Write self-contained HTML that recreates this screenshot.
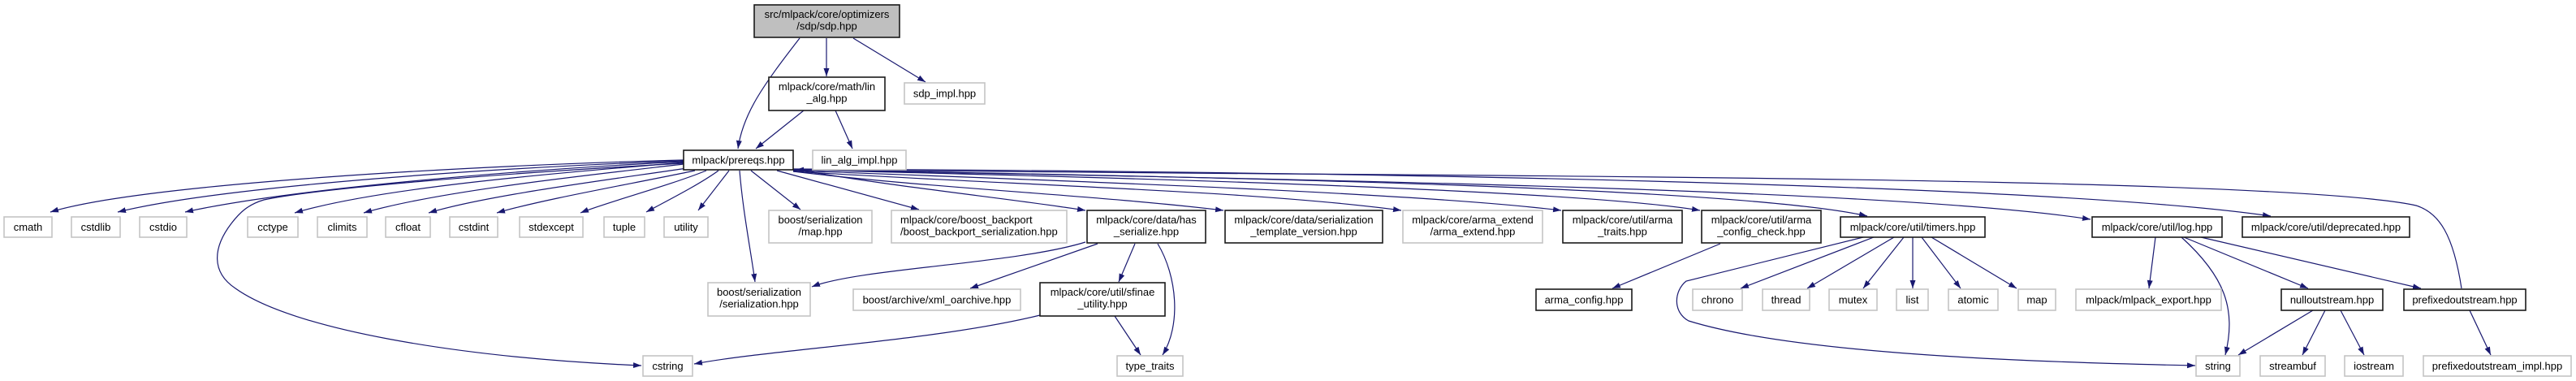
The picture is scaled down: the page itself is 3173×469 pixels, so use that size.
<!DOCTYPE html>
<html>
<head>
<meta charset="utf-8">
<style>
html,body{margin:0;padding:0;background:#fff;}
svg{display:block;}
text{font-family:"Liberation Sans",Arial,sans-serif;font-size:13px;fill:#000;}
.b{fill:#fff;stroke:#1a1a1a;stroke-width:1.6;}
.g{fill:#fff;stroke:#c4c4c4;stroke-width:1.6;}
.t{fill:#bfbfbf;stroke:#1a1a1a;stroke-width:1.6;}
.e{fill:none;stroke:#191970;stroke-width:1.2;marker-end:url(#ah);}
</style>
</head>
<body>
<svg width="3173" height="469" viewBox="0 0 3173 469" xmlns="http://www.w3.org/2000/svg">
<defs>
<marker id="ah" markerUnits="userSpaceOnUse" markerWidth="11" markerHeight="8" refX="10" refY="3.5" orient="auto">
<path d="M0,0 L10,3.5 L0,7 Z" fill="#191970"/>
</marker>
</defs>

<!-- edges -->
<g>
<path class="e" d="M985,47 C940,105 915,140 909,183"/>
<path class="e" d="M1018,47 L1018,94"/>
<path class="e" d="M1051,47 L1140,101"/>
<path class="e" d="M990,136 L931,183"/>
<path class="e" d="M1029,136 L1050,183"/>

<!-- prereqs left fan -->
<path class="e" d="M842,197 C600,203 180,225 62,261"/>
<path class="e" d="M842,198 C620,206 280,228 145,261"/>
<path class="e" d="M842,199 C640,209 360,232 228,261"/>
<path class="e" d="M842,200 C700,212 470,230 363,262"/>
<path class="e" d="M842,202 C730,215 540,235 448,262"/>
<path class="e" d="M846,207 C760,220 600,240 528,262"/>
<path class="e" d="M856,210 C780,226 670,245 612,262"/>
<path class="e" d="M870,210 C820,230 750,248 715,262"/>
<path class="e" d="M885,210 C860,228 820,248 796,261"/>
<path class="e" d="M898,210 L860,259"/>
<path class="e" d="M842,201 C620,213 390,232 325,246 C305,252 295,262 285,275 C262,305 260,335 290,355 C360,405 560,440 790,450"/>
<path class="e" d="M911,210 C915,260 925,310 930,347"/>

<!-- prereqs right fan -->
<path class="e" d="M925,210 L986,258"/>
<path class="e" d="M957,210 L1132,258"/>
<path class="e" d="M977,208 C1100,230 1250,245 1337,259"/>
<path class="e" d="M977,211 C1150,232 1350,240 1507,259"/>
<path class="e" d="M977,211 C1250,228 1550,235 1726,259"/>
<path class="e" d="M977,210 C1350,224 1750,238 1923,259"/>
<path class="e" d="M977,209 C1450,220 1950,235 2094,259"/>
<path class="e" d="M977,209 C1550,218 2150,232 2300,266"/>
<path class="e" d="M977,209 C1700,222 2350,235 2575,270"/>
<path class="e" d="M977,208 C1800,212 2550,230 2797,266"/>
<path class="e" d="M3032,355 C3022,290 3005,262 2976,253 C2850,225 2200,218 1573,214 L980,209"/>

<!-- has_serialize -->
<path class="e" d="M1337,298 C1250,325 1060,330 1000,353"/>
<path class="e" d="M1352,300 L1195,355"/>
<path class="e" d="M1398,300 L1378,347"/>
<path class="e" d="M1426,300 C1450,340 1455,400 1432,437"/>
<!-- sfinae -->
<path class="e" d="M1281,388 C1150,420 950,430 855,448"/>
<path class="e" d="M1373,389 L1405,437"/>
<!-- arma_config_check -->
<path class="e" d="M2119,300 L1986,355"/>
<!-- timers -->
<path class="e" d="M2308,292 L2144,355"/>
<path class="e" d="M2333,292 L2226,355"/>
<path class="e" d="M2345,292 L2295,355"/>
<path class="e" d="M2356,292 L2356,355"/>
<path class="e" d="M2367,292 L2415,355"/>
<path class="e" d="M2379,292 L2484,355"/>
<path class="e" d="M2295,292 L2077,346 C2062,358 2060,384 2080,395 C2200,432 2450,445 2704,450"/>
<!-- log -->
<path class="e" d="M2655,292 L2647,355"/>
<path class="e" d="M2687,292 C2740,340 2755,380 2741,437"/>
<path class="e" d="M2690,292 L2843,355"/>
<path class="e" d="M2711,292 L2982,355"/>
<!-- nulloutstream -->
<path class="e" d="M2849,382 L2757,437"/>
<path class="e" d="M2864,382 L2836,437"/>
<path class="e" d="M2883,382 L2912,437"/>
<!-- prefixedoutstream -->
<path class="e" d="M3042,382 L3068,437"/>
</g>

<!-- nodes -->
<g>
<rect class="t" x="929" y="6" width="179" height="40"/>
<text x="1018.5" y="22" text-anchor="middle">src/mlpack/core/optimizers</text>
<text x="1018.5" y="36.5" text-anchor="middle">/sdp/sdp.hpp</text>

<rect class="b" x="947" y="95" width="143" height="41"/>
<text x="1018.5" y="111" text-anchor="middle">mlpack/core/math/lin</text>
<text x="1018.5" y="125.5" text-anchor="middle">_alg.hpp</text>

<rect class="g" x="1114" y="102" width="99" height="26"/>
<text x="1163.5" y="119.5" text-anchor="middle">sdp_impl.hpp</text>

<rect class="b" x="842" y="185" width="135" height="24"/>
<text x="909.5" y="201.5" text-anchor="middle">mlpack/prereqs.hpp</text>

<rect class="g" x="1001" y="185" width="115" height="24"/>
<text x="1058.5" y="201.5" text-anchor="middle">lin_alg_impl.hpp</text>

<!-- row 1 single -->
<rect class="g" x="5" y="267" width="59" height="25"/>
<text x="34.5" y="284" text-anchor="middle">cmath</text>
<rect class="g" x="88" y="267" width="60" height="25"/>
<text x="118" y="284" text-anchor="middle">cstdlib</text>
<rect class="g" x="172" y="267" width="58" height="25"/>
<text x="201" y="284" text-anchor="middle">cstdio</text>
<rect class="g" x="305" y="267" width="62" height="25"/>
<text x="336" y="284" text-anchor="middle">cctype</text>
<rect class="g" x="391" y="267" width="61" height="25"/>
<text x="421.5" y="284" text-anchor="middle">climits</text>
<rect class="g" x="475" y="267" width="55" height="25"/>
<text x="502.5" y="284" text-anchor="middle">cfloat</text>
<rect class="g" x="554" y="267" width="59" height="25"/>
<text x="583.5" y="284" text-anchor="middle">cstdint</text>
<rect class="g" x="640" y="267" width="78" height="25"/>
<text x="679" y="284" text-anchor="middle">stdexcept</text>
<rect class="g" x="744" y="267" width="50" height="25"/>
<text x="769" y="284" text-anchor="middle">tuple</text>
<rect class="g" x="818" y="267" width="54" height="25"/>
<text x="845" y="284" text-anchor="middle">utility</text>

<!-- row 1 double -->
<rect class="g" x="947" y="259" width="127" height="40"/>
<text x="1010.5" y="275" text-anchor="middle">boost/serialization</text>
<text x="1010.5" y="289.5" text-anchor="middle">/map.hpp</text>

<rect class="g" x="1098" y="259" width="216" height="40"/>
<text x="1109" y="275">mlpack/core/boost_backport</text>
<text x="1109" y="289.5">/boost_backport_serialization.hpp</text>

<rect class="b" x="1339" y="259" width="146" height="40"/>
<text x="1412" y="275" text-anchor="middle">mlpack/core/data/has</text>
<text x="1412" y="289.5" text-anchor="middle">_serialize.hpp</text>

<rect class="b" x="1509" y="259" width="194" height="40"/>
<text x="1606" y="275" text-anchor="middle">mlpack/core/data/serialization</text>
<text x="1606" y="289.5" text-anchor="middle">_template_version.hpp</text>

<rect class="g" x="1728" y="259" width="172" height="40"/>
<text x="1814" y="275" text-anchor="middle">mlpack/core/arma_extend</text>
<text x="1814" y="289.5" text-anchor="middle">/arma_extend.hpp</text>

<rect class="b" x="1925" y="259" width="147" height="40"/>
<text x="1998.5" y="275" text-anchor="middle">mlpack/core/util/arma</text>
<text x="1998.5" y="289.5" text-anchor="middle">_traits.hpp</text>

<rect class="b" x="2096" y="259" width="147" height="40"/>
<text x="2169.5" y="275" text-anchor="middle">mlpack/core/util/arma</text>
<text x="2169.5" y="289.5" text-anchor="middle">_config_check.hpp</text>

<rect class="b" x="2267" y="267" width="178" height="25"/>
<text x="2356" y="284" text-anchor="middle">mlpack/core/util/timers.hpp</text>

<rect class="b" x="2577" y="267" width="160" height="25"/>
<text x="2657" y="284" text-anchor="middle">mlpack/core/util/log.hpp</text>

<rect class="b" x="2762" y="267" width="206" height="25"/>
<text x="2865" y="284" text-anchor="middle">mlpack/core/util/deprecated.hpp</text>

<!-- row 2 -->
<rect class="g" x="872" y="348" width="126" height="41"/>
<text x="935" y="364" text-anchor="middle">boost/serialization</text>
<text x="935" y="378.5" text-anchor="middle">/serialization.hpp</text>

<rect class="g" x="1051" y="356" width="206" height="26"/>
<text x="1154" y="373.5" text-anchor="middle">boost/archive/xml_oarchive.hpp</text>

<rect class="b" x="1281" y="348" width="154" height="41"/>
<text x="1358" y="364" text-anchor="middle">mlpack/core/util/sfinae</text>
<text x="1358" y="378.5" text-anchor="middle">_utility.hpp</text>

<rect class="b" x="1892" y="356" width="118" height="26"/>
<text x="1951" y="373.5" text-anchor="middle">arma_config.hpp</text>

<rect class="g" x="2085" y="356" width="61" height="26"/>
<text x="2115.5" y="373.5" text-anchor="middle">chrono</text>
<rect class="g" x="2171" y="356" width="58" height="26"/>
<text x="2200" y="373.5" text-anchor="middle">thread</text>
<rect class="g" x="2253" y="356" width="59" height="26"/>
<text x="2282.5" y="373.5" text-anchor="middle">mutex</text>
<rect class="g" x="2336" y="356" width="39" height="26"/>
<text x="2355.5" y="373.5" text-anchor="middle">list</text>
<rect class="g" x="2400" y="356" width="61" height="26"/>
<text x="2430.5" y="373.5" text-anchor="middle">atomic</text>
<rect class="g" x="2486" y="356" width="46" height="26"/>
<text x="2509" y="373.5" text-anchor="middle">map</text>
<rect class="g" x="2557" y="356" width="179" height="26"/>
<text x="2646.5" y="373.5" text-anchor="middle">mlpack/mlpack_export.hpp</text>
<rect class="b" x="2810" y="356" width="125" height="26"/>
<text x="2872.5" y="373.5" text-anchor="middle">nulloutstream.hpp</text>
<rect class="b" x="2961" y="356" width="150" height="26"/>
<text x="3036" y="373.5" text-anchor="middle">prefixedoutstream.hpp</text>

<!-- row 3 -->
<rect class="g" x="792" y="438" width="61" height="25"/>
<text x="822.5" y="455" text-anchor="middle">cstring</text>
<rect class="g" x="1376" y="438" width="81" height="25"/>
<text x="1416.5" y="455" text-anchor="middle">type_traits</text>
<rect class="g" x="2705" y="438" width="54" height="25"/>
<text x="2732" y="455" text-anchor="middle">string</text>
<rect class="g" x="2784" y="438" width="80" height="25"/>
<text x="2824" y="455" text-anchor="middle">streambuf</text>
<rect class="g" x="2888" y="438" width="72" height="25"/>
<text x="2924" y="455" text-anchor="middle">iostream</text>
<rect class="g" x="2985" y="438" width="182" height="25"/>
<text x="3076" y="455" text-anchor="middle">prefixedoutstream_impl.hpp</text>
</g>
</svg>
</body>
</html>
